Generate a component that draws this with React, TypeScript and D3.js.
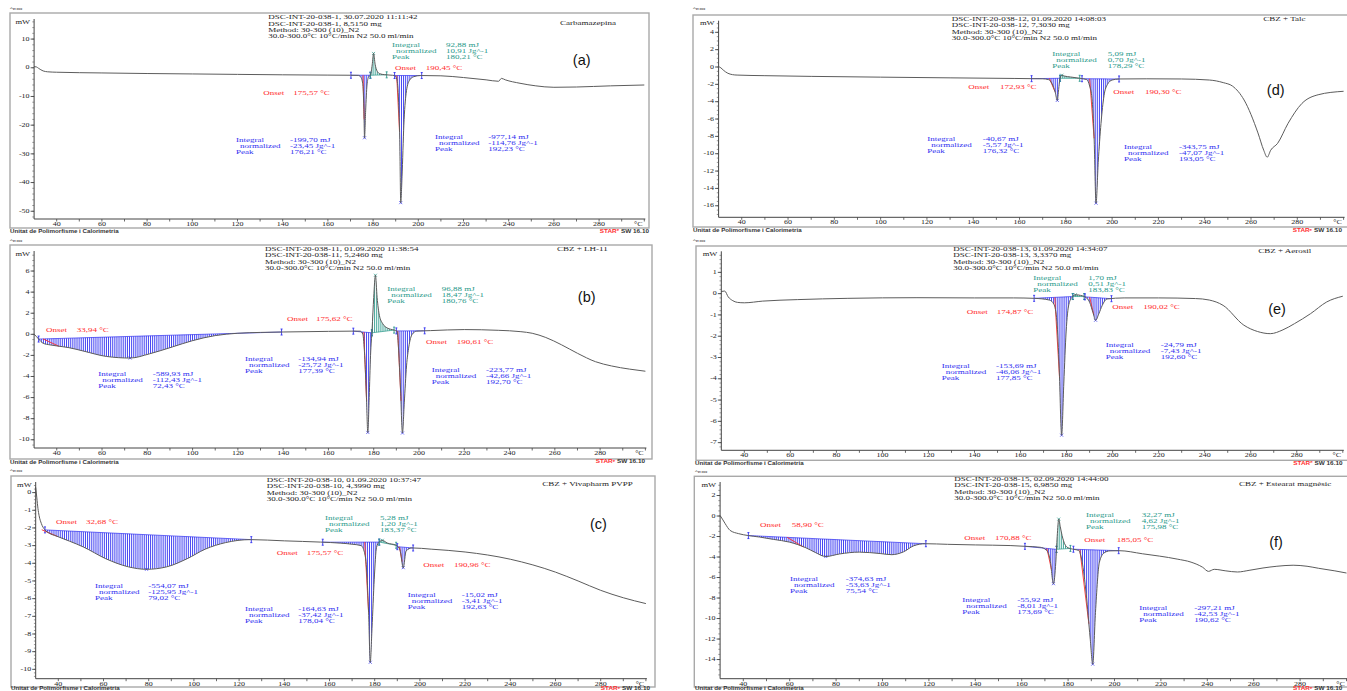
import React from "react";
import * as d3 from "d3";

type Pt = [number, number];
type Kind = "endo" | "exo";
interface Peak {
  from: number;
  to: number;
  kind: Kind;
  peakT: number;
  onset?: number;
  integral: number;
  normalized: number;
}

// Temperature axis (°C), shared by all six runs
const tempDomain: [number, number] = [30, 300];
const tempLabels = [40, 60, 80, 100, 120, 140, 160, 180, 200, 220, 240, 260, 280];
const method = "Method: 30-300 (10)_N2";
const program = "30.0-300.0°C 10°C/min N2 50.0 ml/min";

// ---------- (a) Carbamazepina
const headerA = ["DSC-INT-20-038-1, 30.07.2020 11:11:42", "DSC-INT-20-038-1, 8,5150 mg", method, program];
const sampleA = "Carbamazepina";
const yTicksA = [10, 0, -10, -20, -30, -40, -50];
const curveA: Pt[] = [
  [30, 0.4], [31, 0.3], [32, -0.2], [33, -0.7], [34, -1.1], [36, -1.4], [40, -1.55], [60, -1.8],
  [80, -2.0], [100, -2.15], [120, -2.3], [140, -2.45], [160, -2.55], [170, -2.6], [173.5, -2.65],
  [174.5, -3.2], [175.4, -5.5], [175.9, -14], [176.21, -24.4], [176.7, -15], [177.3, -6], [178, -3.2],
  [178.8, -2.6], [179.6, 1.0], [180.21, 5.0], [180.9, 1.2], [181.8, -1.2], [183, -2.1], [185, -2.4],
  [187.5, -2.55], [189.5, -2.7], [190.5, -4], [191.3, -12], [191.8, -25], [192.23, -47], [192.8, -38],
  [193.6, -20], [194.6, -9], [196, -4.5], [198, -3.1], [201, -2.7], [210, -2.8], [220, -3.4],
  [230, -4.2], [235.5, -4.7], [236.8, -3.7], [238.5, -4.2], [245, -5.4], [252, -6.3], [260, -6.8],
  [270, -6.7], [285, -6.3], [300, -6.0],
];
const peaksA: Peak[] = [
  { from: 170.2, to: 178.8, kind: "endo", peakT: 176.21, onset: 175.57, integral: -199.7, normalized: -23.45 },
  { from: 178.8, to: 186.0, kind: "exo", peakT: 180.21, integral: 92.88, normalized: 10.91 },
  { from: 189.5, to: 201.5, kind: "endo", peakT: 192.23, onset: 190.45, integral: -977.14, normalized: -114.76 },
];

// ---------- (b) CBZ + LH-11
const headerB = ["DSC-INT-20-038-11, 01.09.2020 11:38:54", "DSC-INT-20-038-11, 5,2460 mg", method, program];
const sampleB = "CBZ + LH-11";
const yTicksB = [6, 4, 2, 0, -2, -4, -6, -8, -10];
const curveB: Pt[] = [
  [30, 0], [31, -0.2], [32, -0.45], [34, -0.85], [37, -1.0], [40, -1.1], [45, -1.25], [52, -1.6],
  [62, -2.1], [72.43, -2.25], [81, -1.85], [91, -1.2], [100, -0.6], [110, -0.12], [120, 0.1],
  [130, 0.18], [140, 0.22], [160, 0.28], [170, 0.3], [174, 0.3], [175.2, 0], [176, -2], [176.8, -6],
  [177.39, -9.3], [178, -6], [178.6, -2], [179.3, 0.5], [180, 3.5], [180.76, 5.6], [181.5, 3.5],
  [182.5, 1.8], [184, 1.0], [186, 0.6], [189, 0.4], [190.3, 0.3], [191, -1.5], [191.8, -5],
  [192.7, -9.36], [193.5, -6.5], [194.5, -3], [195.5, -1.2], [197, 0], [199, 0.3], [205, 0.35],
  [220, 0.45], [235, 0.38], [245, 0.25], [250, 0.1], [256, -0.3], [263, -1.0], [270, -1.8],
  [278, -2.6], [285, -3.0], [293, -3.3], [300, -3.5],
];
const peaksB: Peak[] = [
  { from: 32, to: 139.3, kind: "endo", peakT: 72.43, onset: 33.94, integral: -589.93, normalized: -112.43 },
  { from: 171, to: 179.2, kind: "endo", peakT: 177.39, onset: 175.62, integral: -134.94, normalized: -25.72 },
  { from: 179.2, to: 189, kind: "exo", peakT: 180.76, integral: 96.88, normalized: 18.47 },
  { from: 190, to: 202.5, kind: "endo", peakT: 192.7, onset: 190.61, integral: -223.77, normalized: -42.66 },
];

// ---------- (c) CBZ + Vivapharm PVPP
const headerC = ["DSC-INT-20-038-10, 01.09.2020 10:37:47", "DSC-INT-20-038-10, 4,3990 mg", method, program];
const sampleC = "CBZ + Vivapharm PVPP";
const yTicksC = [0, -1, -2, -3, -4, -5, -6, -7, -8, -9, -10];
const curveC: Pt[] = [
  [30, 0.3], [30.5, -0.3], [31, -0.9], [31.5, -1.3], [32.5, -1.75], [34, -2.1], [36, -2.3], [39, -2.45],
  [45, -2.75], [51, -3.07], [61, -3.74], [71, -4.2], [79.02, -4.34], [88, -4.2], [97, -3.74],
  [105, -3.2], [114, -2.83], [125, -2.66], [140, -2.73], [156, -2.8], [165, -2.86], [170, -2.92],
  [174, -3.0], [175.5, -3.4], [176.5, -4.5], [177.3, -6.8], [178.04, -9.6], [178.8, -7.7],
  [179.8, -4.9], [180.8, -3.1], [182, -2.8], [183.37, -2.7], [185.5, -2.85], [189.5, -2.98],
  [191.2, -3.25], [192.63, -4.25], [193.9, -3.3], [196.5, -3.13], [205, -3.2], [220, -3.36],
  [240, -3.77], [260, -4.5], [270, -5.0], [280, -5.53], [290, -5.95], [300, -6.28],
];
const peaksC: Peak[] = [
  { from: 34.1, to: 125.4, kind: "endo", peakT: 79.02, onset: 32.68, integral: -554.07, normalized: -125.95 },
  { from: 157, to: 182, kind: "endo", peakT: 178.04, onset: 175.57, integral: -164.63, normalized: -37.42 },
  { from: 182, to: 189.5, kind: "exo", peakT: 183.37, integral: 5.28, normalized: 1.2 },
  { from: 190, to: 197, kind: "endo", peakT: 192.63, onset: 190.96, integral: -15.02, normalized: -3.41 },
];

// ---------- (d) CBZ + Talc
const headerD = ["DSC-INT-20-038-12, 01.09.2020 14:08:03", "DSC-INT-20-038-12, 7,3030 mg", method, program];
const sampleD = "CBZ + Talc";
const yTicksD = [4, 2, 0, -2, -4, -6, -8, -10, -12, -14, -16];
const curveD: Pt[] = [
  [30, 0.05], [31, -0.1], [32, -0.35], [34, -0.72], [36, -0.88], [38, -0.93], [50, -1.0], [70, -1.08],
  [100, -1.17], [130, -1.25], [158, -1.32], [170, -1.36], [172.5, -1.45], [174, -1.9], [175.4, -2.9],
  [176.32, -3.85], [176.9, -2.6], [177.5, -1.3], [178.29, -0.95], [179.5, -1.05], [182, -1.15],
  [186, -1.3], [189, -1.45], [190.3, -2.2], [191.3, -3.6], [192.2, -8], [193.05, -15.7], [194, -11],
  [195.2, -6.5], [196.5, -3.3], [198, -2.0], [200, -1.5], [203, -1.38], [215, -1.36], [230, -1.38],
  [242, -1.5], [248, -1.8], [252, -2.2], [257, -3.8], [263, -7.6], [265.5, -9.6], [267, -10.4],
  [268.5, -9.6], [271.5, -8.8], [276, -6.5], [282, -4.2], [289, -3.2], [300, -2.8],
];
const peaksD: Peak[] = [
  { from: 165.2, to: 177.5, kind: "endo", peakT: 176.32, onset: 172.93, integral: -40.67, normalized: -5.57 },
  { from: 177.5, to: 186, kind: "exo", peakT: 178.29, integral: 5.09, normalized: 0.7 },
  { from: 187, to: 203, kind: "endo", peakT: 193.05, onset: 190.3, integral: -343.75, normalized: -47.07 },
];

// ---------- (e) CBZ + Aerosil
const headerE = ["DSC-INT-20-038-13, 01.09.2020 14:34:07", "DSC-INT-20-038-13, 3,3370 mg", method, program];
const sampleE = "CBZ + Aerosil";
const yTicksE = [1, 0, -1, -2, -3, -4, -5, -6, -7];
const curveE: Pt[] = [
  [30, 0.1], [31.5, 0.12], [33, -0.15], [35, -0.33], [37, -0.41], [40, -0.43], [48, -0.35], [63, -0.28],
  [85, -0.22], [115, -0.19], [140, -0.2], [157, -0.2], [166, -0.22], [172.5, -0.3], [174.5, -0.5],
  [175.8, -1.3], [176.8, -3.5], [177.85, -6.65], [178.8, -4.2], [179.8, -1.8], [181, -0.5],
  [182.5, -0.15], [183.83, -0.05], [186, -0.08], [188, -0.15], [190, -0.4], [191.5, -0.9],
  [192.6, -1.25], [194, -0.95], [195.5, -0.55], [197.5, -0.25], [205, -0.2], [220, -0.2],
  [236, -0.23], [242, -0.3], [248, -0.55], [257, -1.48], [263, -1.78], [268.5, -1.88], [274, -1.7],
  [279, -1.41], [286, -0.94], [293, -0.39], [300, -0.12],
];
const peaksE: Peak[] = [
  { from: 165.9, to: 182.7, kind: "endo", peakT: 177.85, onset: 174.87, integral: -153.69, normalized: -46.06 },
  { from: 182.7, to: 187.6, kind: "exo", peakT: 183.83, integral: 1.7, normalized: 0.51 },
  { from: 188, to: 199.5, kind: "endo", peakT: 192.6, onset: 190.02, integral: -24.79, normalized: -7.43 },
];

// ---------- (f) CBZ + Estearat magnèsic
const headerF = ["DSC-INT-20-038-15, 02.09.2020 14:44:00", "DSC-INT-20-038-15, 6,9850 mg", method, program];
const sampleF = "CBZ + Estearat magnèsic";
const yTicksF = [2, 0, -2, -4, -6, -8, -10, -12, -14];
const curveF: Pt[] = [
  [30, 0.05], [31, -0.3], [32.2, -0.75], [34.3, -1.4], [38, -1.72], [42, -1.9], [47, -2.05], [53, -2.28],
  [60, -2.55], [67, -3.1], [71, -3.55], [75.54, -3.95], [81.5, -3.7], [90, -3.52], [99, -3.66],
  [104, -3.77], [109, -3.5], [113.5, -2.9], [118.5, -2.7], [128, -2.76], [140, -2.82], [155, -2.88],
  [161, -2.95], [168, -3.05], [170.5, -3.3], [172.2, -4.2], [173.69, -6.6], [174.7, -4.5],
  [175.3, -2.0], [175.98, -0.3], [176.6, -1.0], [177.4, -1.9], [178.5, -2.7], [180, -3.1],
  [182.5, -3.25], [184.5, -3.35], [186, -4.4], [187.8, -7.6], [189.5, -11.9], [190.62, -14.45],
  [191.8, -9.4], [193.5, -4.5], [195.5, -3.6], [198, -3.4], [202, -3.38], [212, -3.68], [227, -4.2],
  [233, -4.5], [238, -5.0], [240.5, -5.4], [243, -5.2], [248, -5.35], [253, -5.46], [258, -5.3],
  [264, -5.07], [270, -4.9], [277, -4.8], [283, -4.9], [288, -5.1], [295, -5.35], [300, -5.56],
];
const peaksF: Peak[] = [
  { from: 42.2, to: 118.7, kind: "endo", peakT: 75.54, onset: 58.9, integral: -374.63, normalized: -53.63 },
  { from: 161.4, to: 175.0, kind: "endo", peakT: 173.69, onset: 170.88, integral: -55.92, normalized: -8.01 },
  { from: 175.0, to: 181, kind: "exo", peakT: 175.98, integral: 32.27, normalized: 4.62 },
  { from: 182.3, to: 201.8, kind: "endo", peakT: 190.62, onset: 185.05, integral: -297.21, normalized: -42.53 },
];

// ---------- page layout (pixels)
interface Layout {
  frame: [number, number, number, number];
  x30: number;
  x300: number;
  yTop: number;
  yBottom: number;
  yDomain: [number, number];
  minor: number;
  exo: [number, number];
  foot: [number, number];
  star: [number, number, "start" | "end"];
  header: [number, number];
  sample: [number, number];
  letter: [number, number];
}
interface LabelPos { x: number; y: number; vx: number; ox?: number; oy?: number; ovx?: number }

const layoutA: Layout = { frame: [10, 13, 649, 228], x30: 34.1, x300: 644.3, yTop: 19, yBottom: 219, yDomain: [-52.7, 17], minor: 2, exo: [10, 8], foot: [10, 231], star: [649, 231, "end"], header: [268.3, 17.3], sample: [560, 23], letter: [581.7, 60] };
const layoutB: Layout = { frame: [10, 245, 652, 459], x30: 34.1, x300: 645.4, yTop: 251, yBottom: 448, yDomain: [-10.78, 7.9], minor: 0.5, exo: [10, 240.3], foot: [10, 462], star: [645, 461.5, "end"], header: [265, 248.7], sample: [557, 249.3], letter: [586.7, 297] };
const layoutC: Layout = { frame: [11, 476, 655, 687], x30: 35.7, x300: 645.9, yTop: 482, yBottom: 678.7, yDomain: [-10.53, 0.6], minor: 0.2, exo: [10, 470.3], foot: [11, 688.6], star: [650, 688.6, "end"], header: [266.7, 479.7], sample: [542.3, 483.7], letter: [598.5, 524.3] };
const layoutD: Layout = { frame: [693, 15, 1352, 227], x30: 718.6, x300: 1343.6, yTop: 20.7, yBottom: 217.3, yDomain: [-17.33, 5.34], minor: 0.5, exo: [693, 8.3], foot: [693, 230.3], star: [1292.7, 230.3, "start"], header: [951.7, 19], sample: [1263.3, 19.3], letter: [1275.7, 90] };
const layoutE: Layout = { frame: [696, 246, 1352, 460.3], x30: 721.3, x300: 1342.8, yTop: 251.3, yBottom: 450.3, yDomain: [-7.36, 1.99], minor: 0.2, exo: [693, 240.3], foot: [695, 463], star: [1293.3, 463, "start"], header: [953.3, 248.7], sample: [1258.3, 251.3], letter: [1277, 308.7] };
const layoutF: Layout = { frame: [694.3, 476.3, 1352, 687], x30: 720.1, x300: 1346.5, yTop: 482, yBottom: 678.7, yDomain: [-15.87, 3.32], minor: 0.5, exo: [695, 471], foot: [695, 688.6], star: [1293, 688.6, "start"], header: [954.3, 478.7], sample: [1239, 484.3], letter: [1276, 542] };

const labelsA: LabelPos[] = [
  { x: 236, y: 140, vx: 290, ox: 263.3, oy: 93, ovx: 293.3 },
  { x: 392, y: 45, vx: 446 },
  { x: 435, y: 137, vx: 488.3, ox: 395, oy: 68.3, ovx: 425.7 },
];
const labelsB: LabelPos[] = [
  { x: 98.3, y: 374.3, vx: 152.7, ox: 46, oy: 329.7, ovx: 76.7 },
  { x: 245, y: 358.7, vx: 298.3, ox: 287, oy: 319.3, ovx: 316 },
  { x: 387.3, y: 288.7, vx: 441.7 },
  { x: 431.7, y: 370.3, vx: 486, ox: 426, oy: 342, ovx: 456.7 },
];
const labelsC: LabelPos[] = [
  { x: 95, y: 586.3, vx: 148.3, ox: 56, oy: 522, ovx: 86 },
  { x: 245, y: 608.7, vx: 298.3, ox: 276.7, oy: 553, ovx: 306.7 },
  { x: 325, y: 517.7, vx: 380 },
  { x: 407.7, y: 594.7, vx: 461.7, ox: 423.3, oy: 565.3, ovx: 454 },
];
const labelsD: LabelPos[] = [
  { x: 927.3, y: 139, vx: 982.7, ox: 968.3, oy: 86.7, ovx: 1000 },
  { x: 1052.3, y: 54.3, vx: 1107.7 },
  { x: 1124, y: 146.7, vx: 1179, ox: 1113.3, oy: 91.7, ovx: 1145 },
];
const labelsE: LabelPos[] = [
  { x: 941.7, y: 366.3, vx: 996, ox: 966.7, oy: 312, ovx: 996.7 },
  { x: 1033.3, y: 277.7, vx: 1088.3 },
  { x: 1105.7, y: 344.7, vx: 1160.7, ox: 1112.3, oy: 307, ovx: 1143.3 },
];
const labelsF: LabelPos[] = [
  { x: 790, y: 578.7, vx: 845.7, ox: 760, oy: 525.3, ovx: 791.7 },
  { x: 962.3, y: 599.7, vx: 1017.3, ox: 964.3, oy: 537.7, ovx: 995 },
  { x: 1086, y: 514.7, vx: 1141.7 },
  { x: 1139.3, y: 607.7, vx: 1194.3, ox: 1084.3, oy: 540.3, ovx: 1116.7 },
];

// ---------- styling
const SERIF = "'Liberation Serif', 'Times New Roman', serif";
const SANS = "'Liberation Sans', Arial, sans-serif";
const BLUE = "#3030f0";
const TEAL = "#2b9a8b";
const RED = "#ff2e2e";
const INK = "#1e1e1e";
const HATCH_STEP = 2.1;
const LINE_GAP = 5.9;

const fmt = (v: number) => v.toFixed(2).replace(".", ",");

function interp(curve: Pt[], t: number): number {
  const i = d3.bisector((d: Pt) => d[0]).right(curve, t);
  if (i <= 0) return curve[0][1];
  if (i >= curve.length) return curve[curve.length - 1][1];
  const [t0, v0] = curve[i - 1];
  const [t1, v1] = curve[i];
  return v0 + ((v1 - v0) * (t - t0)) / (t1 - t0);
}

function Txt(props: {
  x: number; y: number; children: React.ReactNode; size?: number; fill?: string;
  anchor?: "start" | "middle" | "end"; sy?: number; family?: string; weight?: string;
}) {
  const { x, y, children, size = 9, fill = INK, anchor = "start", sy = 0.76, family = SERIF, weight = "normal" } = props;
  return (
    <text
      transform={`translate(${x},${y}) scale(1,${sy})`}
      fontSize={size}
      fill={fill}
      textAnchor={anchor}
      dominantBaseline="central"
      fontFamily={family}
      fontWeight={weight}
    >
      {children}
    </text>
  );
}

interface PanelProps {
  id: string;
  lay: Layout;
  curve: Pt[];
  peaks: Peak[];
  labels: LabelPos[];
  header: string[];
  sample: string;
  letter: string;
  yTicks: number[];
}

function Panel({ id, lay, curve, peaks, labels, header, sample, letter, yTicks }: PanelProps) {
  const x = d3.scaleLinear().domain(tempDomain).range([lay.x30, lay.x300]);
  const y = d3.scaleLinear().domain(lay.yDomain).range([lay.yBottom, lay.yTop]);
  const line = d3.line<Pt>().x((d) => x(d[0])).y((d) => y(d[1])).curve(d3.curveMonotoneX);
  const yMinor = d3.range(Math.ceil(lay.yDomain[0] / lay.minor) * lay.minor, lay.yDomain[1], lay.minor);
  const xMinor = d3.range(40, 301, 10);
  const axisX = x(30);
  const [fx0, fy0, fx1, fy1] = lay.frame;
  const headerOffsets = [0, 6.2, 13, 19];

  return (
    <g>
      <rect x={fx0} y={fy0} width={fx1 - fx0} height={fy1 - fy0} fill="none" stroke="#a9a9a9" strokeWidth={1.4} />
      <Txt x={lay.exo[0]} y={lay.exo[1]} size={6} family={SANS} sy={0.7} fill="#333">^exo</Txt>

      {/* integration areas with vertical hatching */}
      {peaks.map((p, i) => {
        const color = p.kind === "endo" ? BLUE : TEAL;
        const b0 = interp(curve, p.from);
        const b1 = interp(curve, p.to);
        const base = (t: number) => b0 + ((b1 - b0) * (t - p.from)) / (p.to - p.from);
        const sub: Pt[] = [[p.from, b0], ...curve.filter((d) => d[0] > p.from && d[0] < p.to), [p.to, b1]];
        const area = d3
          .area<Pt>()
          .x((d) => x(d[0]))
          .y0((d) => y(base(d[0])))
          .y1((d) => y(d[1]))
          .curve(d3.curveMonotoneX);
        const cid = `${id}-clip-${i}`;
        const xs = d3.range(x(p.from) + 0.6, x(p.to), HATCH_STEP);
        const tipV = interp(curve, p.peakT);
        return (
          <g key={cid}>
            <clipPath id={cid}>
              <path d={area(sub) || ""} />
            </clipPath>
            <g clipPath={`url(#${cid})`}>
              {xs.map((px, k) => (
                <line key={k} x1={px} x2={px} y1={lay.yTop} y2={lay.yBottom} stroke={color} strokeWidth={0.9} />
              ))}
            </g>
            <line x1={x(p.from)} y1={y(b0)} x2={x(p.to)} y2={y(b1)} stroke={color} strokeWidth={0.7} />
            {[p.from, p.to].map((t, k) => {
              const v = k === 0 ? b0 : b1;
              return (
                <g key={k} stroke={color} strokeWidth={0.9}>
                  <line x1={x(t)} x2={x(t)} y1={y(v) - 3} y2={y(v) + 3} />
                  <line x1={x(t) - 1} x2={x(t) + 1} y1={y(v) - 3} y2={y(v) - 3} />
                  <line x1={x(t) - 1} x2={x(t) + 1} y1={y(v) + 3} y2={y(v) + 3} />
                </g>
              );
            })}
            <g stroke={color} strokeWidth={0.7}>
              <line x1={x(p.peakT) - 1.5} x2={x(p.peakT) + 1.5} y1={y(tipV) - 1.5} y2={y(tipV) + 1.5} />
              <line x1={x(p.peakT) - 1.5} x2={x(p.peakT) + 1.5} y1={y(tipV) + 1.5} y2={y(tipV) - 1.5} />
            </g>
            {p.onset !== undefined && (() => {
              const te = p.onset + Math.min(0.7 * (p.peakT - p.onset), 7);
              return (
                <line
                  x1={x(p.onset)}
                  y1={y(base(p.onset))}
                  x2={x(te)}
                  y2={y(interp(curve, te))}
                  stroke={RED}
                  strokeWidth={0.9}
                />
              );
            })()}
          </g>
        );
      })}

      {/* measured heat flow */}
      <path d={line(curve) || ""} fill="none" stroke="#5c5c5c" strokeWidth={1} />

      {/* axes */}
      <line x1={axisX} x2={axisX} y1={lay.yTop} y2={lay.yBottom} stroke="#444" strokeWidth={1} />
      <line x1={axisX} x2={x(300) + 1} y1={lay.yBottom} y2={lay.yBottom} stroke="#444" strokeWidth={1} />
      {yMinor.map((v, i) => (
        <line key={`ym${i}`} x1={axisX - 1.8} x2={axisX} y1={y(v)} y2={y(v)} stroke="#555" strokeWidth={0.6} />
      ))}
      {yTicks.map((v) => (
        <g key={`yt${v}`}>
          <line x1={axisX - 3.5} x2={axisX} y1={y(v)} y2={y(v)} stroke="#444" strokeWidth={0.9} />
          <Txt x={axisX - 4.5} y={y(v)} size={8} anchor="end">{String(v)}</Txt>
        </g>
      ))}
      <Txt x={axisX - 4} y={lay.yTop + 2.5} size={8.5} anchor="end">mW</Txt>
      {xMinor.map((t) => (
        <line key={`xm${t}`} x1={x(t)} x2={x(t)} y1={lay.yBottom} y2={lay.yBottom + 2.5} stroke="#444" strokeWidth={0.8} />
      ))}
      {tempLabels.map((t) => (
        <Txt key={`xl${t}`} x={x(t)} y={lay.yBottom + 5.2} size={8} anchor="middle">{String(t)}</Txt>
      ))}
      <Txt x={x(300) - 6} y={lay.yBottom + 5.2} size={8} anchor="middle">°C</Txt>

      {/* run header */}
      {header.map((s, i) => (
        <Txt key={`h${i}`} x={lay.header[0]} y={lay.header[1] + headerOffsets[i]} size={9}>{s}</Txt>
      ))}
      <Txt x={lay.sample[0]} y={lay.sample[1]} size={9}>{sample}</Txt>
      <text x={lay.letter[0]} y={lay.letter[1]} fontSize={14.5} fontFamily={SANS} textAnchor="middle" dominantBaseline="central" fill="#111">
        {letter}
      </text>

      {/* peak evaluation results */}
      {peaks.map((p, i) => {
        const L = labels[i];
        const color = p.kind === "endo" ? BLUE : TEAL;
        return (
          <g key={`lab${i}`}>
            <Txt x={L.x} y={L.y} fill={color}>Integral</Txt>
            <Txt x={L.vx} y={L.y} fill={color}>{`${fmt(p.integral)} mJ`}</Txt>
            <Txt x={L.x + 4} y={L.y + LINE_GAP} fill={color}>normalized</Txt>
            <Txt x={L.vx} y={L.y + LINE_GAP} fill={color}>{`${fmt(p.normalized)} Jg^-1`}</Txt>
            <Txt x={L.x} y={L.y + 2 * LINE_GAP} fill={color}>Peak</Txt>
            <Txt x={L.vx} y={L.y + 2 * LINE_GAP} fill={color}>{`${fmt(p.peakT)} °C`}</Txt>
            {p.onset !== undefined && L.ox !== undefined && (
              <>
                <Txt x={L.ox} y={L.oy!} fill={RED}>Onset</Txt>
                <Txt x={L.ovx!} y={L.oy!} fill={RED}>{`${fmt(p.onset)} °C`}</Txt>
              </>
            )}
          </g>
        );
      })}

      {/* footer */}
      <Txt x={lay.foot[0]} y={lay.foot[1]} size={6.2} family={SANS} weight="bold" sy={0.72} fill="#333">
        Unitat de Polimorfisme i Calorimetria
      </Txt>
      <text
        transform={`translate(${lay.star[0]},${lay.star[1]}) scale(1,0.72)`}
        fontSize={6.4}
        fontFamily={SANS}
        fontWeight="bold"
        textAnchor={lay.star[2]}
        dominantBaseline="central"
      >
        <tspan fill={RED}>STAR</tspan>
        <tspan fill={RED} fontSize={4.5} dy={-2}>e</tspan>
        <tspan fill="#333" dy={2}> SW 16.10</tspan>
      </text>
    </g>
  );
}

export default function App() {
  return (
    <svg
      width={1347}
      height={691}
      viewBox="0 0 1347 691"
      style={{ position: "absolute", left: 0, top: 0, background: "#fff" }}
    >
      <rect x={0} y={0} width={1347} height={691} fill="#fff" />
      <Panel id="a" lay={layoutA} curve={curveA} peaks={peaksA} labels={labelsA} header={headerA} sample={sampleA} letter="(a)" yTicks={yTicksA} />
      <Panel id="b" lay={layoutB} curve={curveB} peaks={peaksB} labels={labelsB} header={headerB} sample={sampleB} letter="(b)" yTicks={yTicksB} />
      <Panel id="c" lay={layoutC} curve={curveC} peaks={peaksC} labels={labelsC} header={headerC} sample={sampleC} letter="(c)" yTicks={yTicksC} />
      <Panel id="d" lay={layoutD} curve={curveD} peaks={peaksD} labels={labelsD} header={headerD} sample={sampleD} letter="(d)" yTicks={yTicksD} />
      <Panel id="e" lay={layoutE} curve={curveE} peaks={peaksE} labels={labelsE} header={headerE} sample={sampleE} letter="(e)" yTicks={yTicksE} />
      <Panel id="f" lay={layoutF} curve={curveF} peaks={peaksF} labels={labelsF} header={headerF} sample={sampleF} letter="(f)" yTicks={yTicksF} />
    </svg>
  );
}
